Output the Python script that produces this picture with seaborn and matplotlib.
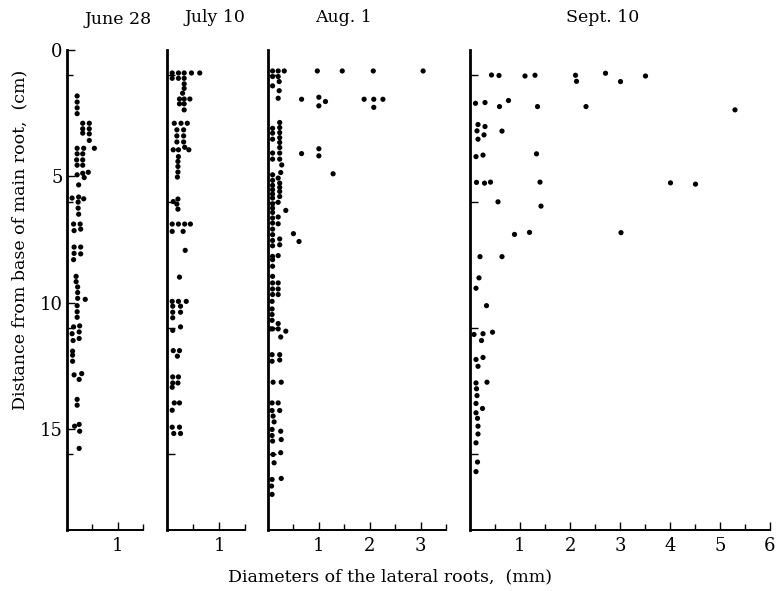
import numpy as np
import pandas as pd
import matplotlib
matplotlib.use("Agg")
import matplotlib.pyplot as plt
import seaborn as sns

# ---------------- data (diameter mm, distance cm) ----------------
june28_diam = [0.20, 0.20, 0.20, 0.20, 0.31, 0.44, 0.31, 0.44, 0.31, 0.44, 0.44,
               0.54, 0.20, 0.33, 0.20, 0.31, 0.19, 0.31, 0.20, 0.31,
               0.42, 0.31, 0.20, 0.34, 0.23, 0.10, 0.23, 0.33, 0.22, 0.22, 0.23,
               0.13, 0.26, 0.14, 0.27, 0.14, 0.27, 0.14, 0.27, 0.13,
               0.18, 0.18, 0.21, 0.21, 0.21, 0.36, 0.20, 0.20, 0.20,
               0.13, 0.25, 0.10, 0.24, 0.12, 0.24, 0.11, 0.11, 0.11,
               0.14, 0.29, 0.24, 0.20, 0.20, 0.15, 0.24, 0.25, 0.24]
june28_dist = [1.82, 2.06, 2.29, 2.52, 2.90, 2.90, 3.12, 3.12, 3.29, 3.32, 3.58,
               3.89, 3.89, 3.89, 4.11, 4.11, 4.35, 4.35, 4.56, 4.56,
               4.84, 4.88, 4.94, 5.05, 5.34, 5.86, 5.82, 5.89, 6.02, 6.26, 6.50,
               6.89, 6.89, 7.15, 7.09, 7.80, 7.80, 8.05, 8.07, 8.30,
               8.96, 9.17, 9.38, 9.60, 9.83, 9.87, 10.12, 10.36, 10.58,
               10.96, 10.92, 11.23, 11.16, 11.50, 11.42, 11.92, 12.08, 12.32,
               12.86, 12.81, 13.04, 13.83, 14.06, 14.89, 14.82, 15.09, 15.77]

july10_diam = [0.10, 0.22, 0.33, 0.47, 0.63, 0.10, 0.22, 0.33,
               0.33, 0.33, 0.30, 0.24, 0.33, 0.44, 0.24, 0.33, 0.33,
               0.14, 0.27, 0.39, 0.19, 0.32, 0.19, 0.32, 0.19, 0.32,
               0.34, 0.12, 0.22, 0.42, 0.22, 0.21, 0.21, 0.21, 0.20,
               0.21, 0.12, 0.19, 0.21, 0.10, 0.22, 0.34, 0.45, 0.10, 0.31,
               0.35, 0.24, 0.10, 0.22, 0.37, 0.11, 0.26, 0.11, 0.26, 0.11,
               0.26, 0.11, 0.12, 0.24, 0.20, 0.11, 0.22, 0.11, 0.21, 0.10,
               0.14, 0.24, 0.10, 0.10, 0.24, 0.13, 0.26]
july10_dist = [0.91, 0.91, 0.91, 0.91, 0.91, 1.12, 1.12, 1.12,
               1.34, 1.52, 1.71, 1.94, 1.94, 1.94, 2.13, 2.13, 2.37,
               2.90, 2.90, 2.90, 3.16, 3.16, 3.40, 3.40, 3.64, 3.64,
               3.85, 3.95, 3.95, 3.95, 4.22, 4.41, 4.61, 4.83, 5.03,
               5.90, 6.00, 6.10, 6.30, 6.89, 6.89, 6.89, 6.89, 7.18, 7.18,
               7.93, 8.99, 9.95, 9.95, 9.95, 10.14, 10.14, 10.38, 10.38, 10.60,
               10.96, 11.10, 11.90, 11.90, 12.12, 12.94, 12.94, 13.18, 13.18, 13.35,
               13.97, 13.97, 14.26, 14.93, 14.93, 15.18, 15.18]

aug1_diam = [0.09, 0.20, 0.32, 0.97, 1.46, 2.07, 3.05,
             0.09, 0.20, 0.22, 0.09, 0.22, 0.20,
             0.66, 1.89, 2.08, 2.26, 1.00, 1.13, 1.00, 2.08,
             0.66, 1.00, 1.00, 1.28, 0.35, 0.50, 0.61,
             0.23, 0.23, 0.23, 0.23, 0.23, 0.23, 0.23, 0.23, 0.27, 0.25, 0.20, 0.23,
             0.23, 0.23, 0.23, 0.20, 0.20, 0.20, 0.23, 0.23, 0.20, 0.20, 0.20, 0.20,
             0.09, 0.09, 0.09, 0.09, 0.09, 0.09, 0.09, 0.09, 0.09, 0.09, 0.09, 0.09,
             0.09, 0.09, 0.09, 0.09, 0.09, 0.09, 0.09, 0.09, 0.09, 0.09, 0.09, 0.09,
             0.09, 0.09, 0.09,
             0.08, 0.08, 0.08, 0.08, 0.05, 0.09, 0.08, 0.08, 0.10, 0.08, 0.08, 0.10,
             0.12, 0.08, 0.08, 0.09, 0.10, 0.12, 0.08, 0.07, 0.08,
             0.20, 0.20, 0.35, 0.25, 0.23, 0.23, 0.26, 0.20, 0.23, 0.25, 0.26, 0.25, 0.26]
aug1_dist = [0.83, 0.83, 0.83, 0.83, 0.83, 0.83, 0.83,
             1.05, 1.05, 1.25, 1.42, 1.61, 1.91,
             1.95, 1.95, 1.95, 1.95, 1.87, 2.04, 2.21, 2.27,
             4.10, 3.91, 4.19, 4.90, 6.35, 7.27, 7.58,
             2.87, 3.07, 3.27, 3.47, 3.66, 3.86, 4.08, 4.32, 4.55, 4.85, 5.07, 5.27,
             5.44, 5.60, 5.80, 6.03, 6.61, 6.88, 7.48, 7.71, 8.14, 9.22, 9.46, 9.68,
             3.10, 3.29, 3.53, 4.08, 4.32, 4.94, 5.16, 5.36, 5.53, 5.70, 5.86, 6.09,
             6.26, 6.43, 6.65, 6.85, 7.09, 7.31, 7.54, 7.75, 8.17, 8.30, 8.56, 8.96,
             9.22, 9.46, 9.68,
             9.95, 10.25, 10.47, 10.70, 11.04, 11.04, 12.06, 12.32, 13.15, 13.97, 14.27, 14.49,
             14.72, 15.02, 15.26, 15.48, 16.01, 16.34, 17.00, 17.26, 17.59,
             10.83, 11.04, 11.13, 11.36, 12.06, 12.27, 13.15, 13.97, 14.27, 15.09, 15.42, 15.94, 16.96]

sept10_diam = [0.43, 0.58, 1.10, 1.30, 2.11, 2.13, 2.71, 3.01, 3.51,
               0.11, 0.30, 0.59, 0.77, 1.35, 2.32, 5.30,
               0.16, 0.30, 0.14, 0.28, 0.64, 0.16,
               0.12, 0.26, 1.33, 0.13, 0.29, 0.41, 1.40, 4.01, 4.51,
               0.56, 1.42, 0.89, 1.19, 3.02, 0.20, 0.64, 0.18, 0.12,
               0.33, 0.08, 0.26, 0.45, 0.23, 0.12, 0.26, 0.16,
               0.12, 0.34, 0.13, 0.14, 0.12, 0.25, 0.12, 0.15, 0.16, 0.16,
               0.12, 0.15, 0.12]
sept10_dist = [0.99, 1.01, 1.03, 1.00, 1.00, 1.24, 0.92, 1.25, 1.03,
               2.11, 2.08, 2.24, 2.00, 2.24, 2.24, 2.37,
               2.95, 3.03, 3.20, 3.36, 3.21, 3.53,
               4.22, 4.16, 4.11, 5.24, 5.27, 5.23, 5.23, 5.26, 5.31,
               6.01, 6.18, 7.30, 7.22, 7.23, 8.18, 8.18, 9.02, 9.43,
               10.12, 11.26, 11.23, 11.17, 11.50, 12.25, 12.17, 12.52,
               13.18, 13.15, 13.41, 13.68, 13.99, 14.19, 14.36, 14.58, 14.89, 15.20,
               15.55, 16.31, 16.69]

panel_titles = ["June 28", "July 10", "Aug. 1", "Sept. 10"]
panel_xmax = [1.5, 1.5, 3.5, 6]
ylabel_text = "Distance from base of main root,  (cm)"
xlabel_text = "Diameters of the lateral roots,  (mm)"

frames = []
for name, d, z in zip(panel_titles,
                      [june28_diam, july10_diam, aug1_diam, sept10_diam],
                      [june28_dist, july10_dist, aug1_dist, sept10_dist]):
    frames.append(pd.DataFrame({"panel": name, "diam": d, "dist": z}))
df = pd.concat(frames, ignore_index=True)

# ---------------- styling ----------------
sns.set_style("ticks", {"axes.edgecolor": "black", "xtick.color": "black",
                        "ytick.color": "black", "text.color": "black",
                        "axes.labelcolor": "black"})
plt.rcParams["font.family"] = ["DejaVu Serif"]

W, H = 778, 591
fig = plt.figure(figsize=(W / 100, H / 100), dpi=100)

px_lr = [(67, 143), (167, 245), (268, 446), (470, 770)]
ytop, ybot = 50, 530
title_xy = [(118, 20), (215, 18), (343, 18), (603, 17)]

for i, (name, xmax) in enumerate(zip(panel_titles, panel_xmax)):
    l, r = px_lr[i]
    ax = fig.add_axes([l / W, 1 - ybot / H, (r - l) / W, (ybot - ytop) / H])
    sub = df[df["panel"] == name]
    sns.scatterplot(data=sub, x="diam", y="dist", ax=ax, color="black",
                    s=14, edgecolor="none", linewidth=0, legend=False,
                    clip_on=False)
    ax.set_xlim(0, xmax)
    ax.set_ylim(19, 0)
    for s in ("top", "right"):
        ax.spines[s].set_visible(False)
    ax.spines["left"].set_linewidth(2.0)
    ax.spines["bottom"].set_linewidth(1.4)
    ax.spines["left"].set_color("black")
    ax.spines["bottom"].set_color("black")
    majors = list(range(1, int(xmax) + 1))
    ax.set_xticks(majors)
    ax.set_xticklabels([str(m) for m in majors])
    ax.set_xticks(np.arange(0.5, xmax + 0.01, 0.5), minor=True)
    if i == 0:
        ax.set_yticks([0, 5, 10, 15])
        ax.set_yticklabels(["0", "5", "10", "15"])
        ax.set_yticks([1, 6, 11, 16], minor=True)
    else:
        ax.set_yticks([1, 6, 11, 16])
        ax.set_yticklabels([])
    ax.tick_params(axis="both", which="major", direction="in", length=6,
                   width=1.0, labelsize=13, pad=5, color="black",
                   labelcolor="black")
    ax.tick_params(axis="both", which="minor", direction="in", length=4,
                   width=1.0, color="black")
    ax.tick_params(axis="y", which="major", pad=3)
    ax.set_xlabel("")
    ax.set_ylabel("")
    ax.patch.set_alpha(0)
    tx, ty = title_xy[i]
    fig.text(tx / W, 1 - ty / H, name, ha="center", va="center",
             fontsize=12.5, color="black")

fig.text(20 / W, 1 - 240 / H, ylabel_text, rotation=90, ha="center",
         va="center", fontsize=12.5, color="black")
fig.text(390 / W, 1 - 577 / H, xlabel_text, ha="center", va="center",
         fontsize=12.5, color="black")

fig.savefig("out.png", dpi=100, facecolor="white")
